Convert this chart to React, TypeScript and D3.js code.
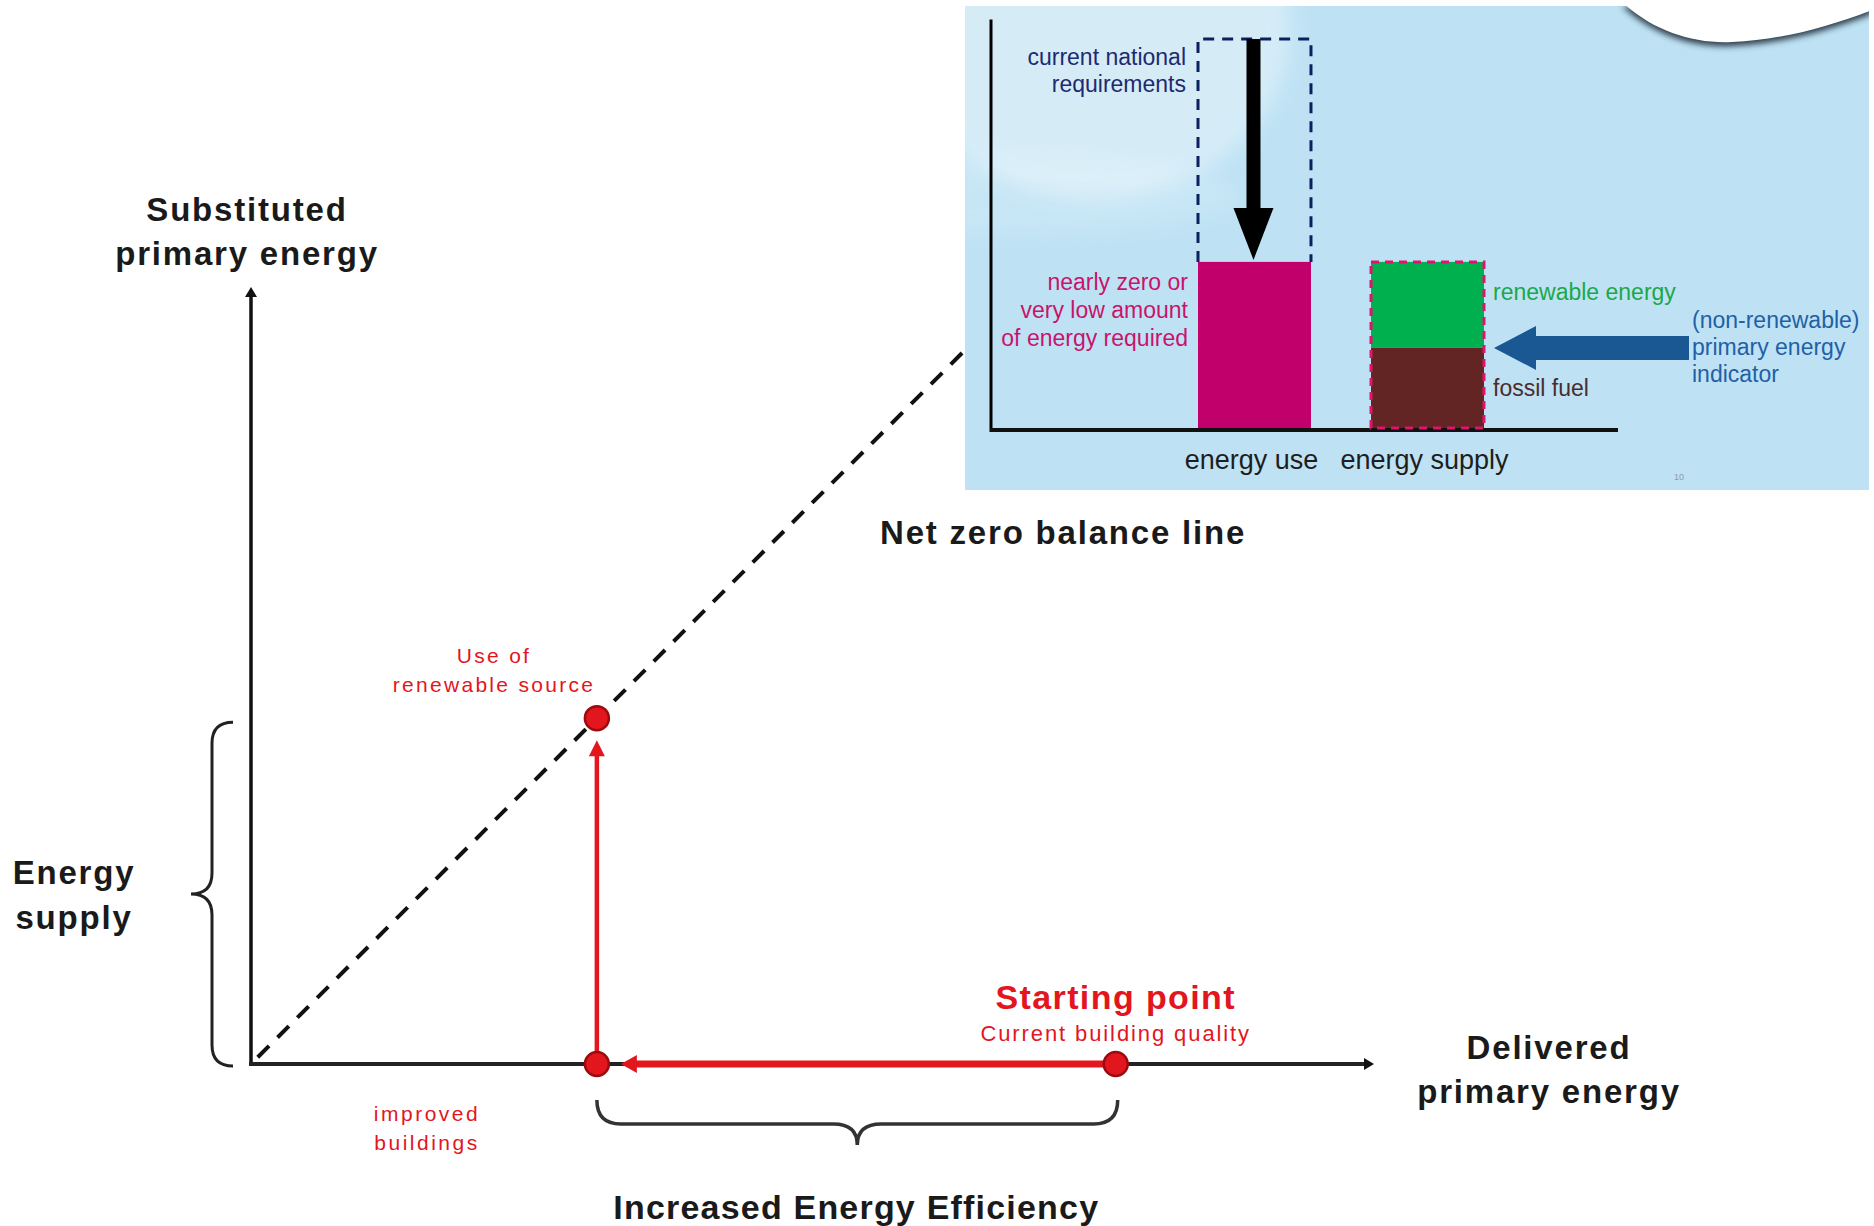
import React from "react";
import * as d3 from "d3";

// ---- Main diagram: delivered vs substituted primary energy ----
const deliveredAxisMax = 100;
const substitutedAxisMax = 69.2;
const netZeroLineEnd = 64;

// Path of a building from its current quality to net zero
const startingPoint = { delivered: 77, substituted: 0 };
const improvedBuilding = { delivered: 30.8, substituted: 0 };
const renewableSupply = { delivered: 30.8, substituted: 30.8 };

// ---- Inset bar chart: energy use vs energy supply ----
const insetCategories = ["energy use", "energy supply"];
const currentRequirement = 100;
const energyUseValue = 43;
const fossilFuelValue = 21;
const renewableValue = 22;
const insetAxisMax = 105;

const currentLabel = ["current national", "requirements"];
const nzebLabel = ["nearly zero or", "very low amount", "of energy required"];
const indicatorLabel = ["(non-renewable)", "primary energy", "indicator"];

const FONT = "'Liberation Sans', Arial, Helvetica, sans-serif";
const RED = "#e3151d";

function vBrace(x: number, y1: number, y2: number, w: number, c: number) {
  const m = (y1 + y2) / 2;
  return `M${x + w},${y1} Q${x},${y1} ${x},${y1 + w} L${x},${m - w} Q${x},${m} ${x - c},${m} Q${x},${m} ${x},${m + w} L${x},${y2 - w} Q${x},${y2} ${x + w},${y2}`;
}

function hBrace(x1: number, x2: number, y: number, w: number, c: number) {
  const m = (x1 + x2) / 2;
  return `M${x1},${y - w} Q${x1},${y} ${x1 + w},${y} L${m - w},${y} Q${m},${y} ${m},${y + c} Q${m},${y} ${m + w},${y} L${x2 - w},${y} Q${x2},${y} ${x2},${y - w}`;
}

export default function App() {
  const x = d3.scaleLinear().domain([0, deliveredAxisMax]).range([251, 1374]);
  const y = d3.scaleLinear().domain([0, substitutedAxisMax]).range([1064, 287]);

  const x0 = x(0);
  const y0 = y(0);

  const netZero = d3.line<[number, number]>()
    .x((d) => x(d[0]))
    .y((d) => y(d[1]))([[0.6, 0.6], [netZeroLineEnd, netZeroLineEnd]]);

  const sx = x(startingPoint.delivered);
  const ix = x(improvedBuilding.delivered);
  const ry = y(renewableSupply.substituted);
  const rx = x(renewableSupply.delivered);

  // inset scales
  const ix2 = d3.scaleBand<string>().domain(insetCategories).range([1198, 1484]).paddingInner(0.347);
  const iy = d3.scaleLinear().domain([0, insetAxisMax]).range([430, 19.5]);
  const bw = ix2.bandwidth();
  const useX = ix2("energy use")!;
  const supX = ix2("energy supply")!;
  const inset = { x: 965, y: 6, w: 904, h: 484 };
  const insetAxisX = 991;
  const insetAxisRight = 1618;

  const useTop = iy(energyUseValue);
  const reqTop = iy(currentRequirement);
  const fossilTop = iy(fossilFuelValue);
  const supplyTop = iy(fossilFuelValue + renewableValue);
  const arrowCx = useX + bw / 2 - 1;

  const blueArrowY = fossilTop;
  const blueTip = supX + bw + 10;
  const blueTail = 1689;

  return (
    <svg width={1874} height={1226} style={{ position: "absolute", left: 0, top: 0, background: "#fff" }} fontFamily={FONT}>
      <defs>
        <clipPath id="insetClip">
          <rect x={inset.x} y={inset.y} width={inset.w} height={inset.h} />
        </clipPath>
        <filter id="soft" x="-20%" y="-50%" width="140%" height="200%">
          <feGaussianBlur stdDeviation="3" />
        </filter>
        <filter id="glow" x="-30%" y="-30%" width="160%" height="160%">
          <feGaussianBlur stdDeviation="10" />
        </filter>
      </defs>

      {/* net zero balance line */}
      <path d={netZero!} stroke="#111" strokeWidth={4} strokeDasharray="16 12" fill="none" />

      {/* axes */}
      <line x1={x0} y1={y0} x2={x0} y2={y(substitutedAxisMax) + 8} stroke="#111" strokeWidth={3.5} />
      <path d={`M${x0 - 6},${y(substitutedAxisMax) + 10} L${x0},${y(substitutedAxisMax)} L${x0 + 6},${y(substitutedAxisMax) + 10} Z`} fill="#111" />
      <line x1={x0 - 2} y1={y0} x2={x(deliveredAxisMax) - 8} y2={y0} stroke="#222" strokeWidth={4} />
      <path d={`M${x(deliveredAxisMax) - 10},${y0 - 6} L${x(deliveredAxisMax)},${y0} L${x(deliveredAxisMax) - 10},${y0 + 6} Z`} fill="#111" />

      {/* axis titles */}
      <g fontWeight="bold" fontSize={33} fill="#1a1a1a" textAnchor="middle" letterSpacing={1.8}>
        <text x={247} y={209} dy="0.35em">Substituted</text>
        <text x={247} y={253} dy="0.35em">primary energy</text>
        <text x={74} y={872} dy="0.35em">Energy</text>
        <text x={74} y={917} dy="0.35em">supply</text>
        <text x={1549} y={1047} dy="0.35em">Delivered</text>
        <text x={1549} y={1091} dy="0.35em">primary energy</text>
      </g>
      <text x={880} y={532} dy="0.35em" fontWeight="bold" fontSize={33} fill="#1a1a1a" letterSpacing={1.8}>Net zero balance line</text>
      <text x={(ix + sx) / 2} y={1207} dy="0.35em" fontWeight="bold" fontSize={34} fill="#1a1a1a" textAnchor="middle" letterSpacing={1.2}>Increased Energy Efficiency</text>

      {/* braces */}
      <path d={vBrace(212, y(renewableSupply.substituted) + 4, y0 + 2, 21, 21)} fill="none" stroke="#222" strokeWidth={3} />
      <path d={hBrace(ix, sx + 2, 1124, 24, 21)} fill="none" stroke="#333" strokeWidth={3.5} />

      {/* red path: efficiency then renewables */}
      <line x1={sx} y1={y0} x2={ix + 36} y2={y0} stroke={RED} strokeWidth={7} />
      <path d={`M${ix + 24},${y0} L${ix + 40},${y0 - 9} L${ix + 40},${y0 + 9} Z`} fill={RED} />
      <line x1={ix} y1={y0} x2={rx} y2={ry + 36} stroke={RED} strokeWidth={4.5} />
      <path d={`M${rx},${ry + 22} L${rx - 8},${ry + 38} L${rx + 8},${ry + 38} Z`} fill={RED} />

      {[startingPoint, improvedBuilding, renewableSupply].map((p, i) => (
        <circle key={i} cx={x(p.delivered)} cy={y(p.substituted)} r={12} fill={RED} stroke="#9a0b10" strokeWidth={2.5} />
      ))}

      {/* red annotations */}
      <g fill={RED} textAnchor="middle">
        <text x={sx} y={997} dy="0.35em" fontWeight="bold" fontSize={34} letterSpacing={1.4}>Starting point</text>
        <text x={sx} y={1033} dy="0.35em" fontSize={22} letterSpacing={1.9}>Current building quality</text>
        <text x={494} y={656} dy="0.35em" fontSize={21} letterSpacing={2.3}>Use of</text>
        <text x={494} y={685} dy="0.35em" fontSize={21} letterSpacing={2.3}>renewable source</text>
        <text x={427} y={1114} dy="0.35em" fontSize={21} letterSpacing={2.5}>improved</text>
        <text x={427} y={1143} dy="0.35em" fontSize={21} letterSpacing={2.5}>buildings</text>
      </g>

      {/* ---- inset slide ---- */}
      <rect x={inset.x} y={inset.y} width={inset.w} height={inset.h} fill="#bee2f4" />
      <g clipPath="url(#insetClip)">
        <ellipse cx={1095} cy={30} rx={195} ry={170} fill="#ffffff" opacity={0.36} filter="url(#glow)" />
        <ellipse cx={1000} cy={195} rx={240} ry={40} fill="#ffffff" opacity={0.14} filter="url(#glow)" />
        {/* white swoosh with shadow in the corner */}
        <path d="M1622,2 C1652,30 1692,44 1732,42 C1782,40 1830,26 1872,10 L1872,2 Z" fill="#2a3a48" filter="url(#soft)" transform="translate(0,4)" />
        <path d="M1622,2 C1652,30 1692,44 1732,42 C1782,40 1830,26 1872,10 L1872,2 Z" fill="#ffffff" />
      </g>

      {/* inset axes */}
      <line x1={insetAxisX} y1={iy(insetAxisMax)} x2={insetAxisX} y2={iy(0) + 2} stroke="#000" strokeWidth={3} />
      <line x1={insetAxisX - 1} y1={iy(0)} x2={insetAxisRight} y2={iy(0)} stroke="#111" strokeWidth={4} />

      {/* energy use bar and current requirement outline */}
      <rect x={useX} y={useTop} width={bw} height={iy(0) - useTop - 2} fill="#c2006b" />
      <path d={`M${useX},${useTop} L${useX},${reqTop} L${useX + bw},${reqTop} L${useX + bw},${useTop}`} fill="none" stroke="#0c1f5e" strokeWidth={3} strokeDasharray="11 8" />
      <rect x={arrowCx - 7} y={reqTop} width={14} height={useTop - reqTop - 50} fill="#000" />
      <path d={`M${arrowCx - 20},${useTop - 54} L${arrowCx + 20},${useTop - 54} L${arrowCx},${useTop - 2} Z`} fill="#000" />

      {/* energy supply bar */}
      <rect x={supX} y={fossilTop} width={bw} height={iy(0) - fossilTop - 2} fill="#632523" />
      <rect x={supX} y={supplyTop} width={bw} height={fossilTop - supplyTop} fill="#00b04f" />
      <rect x={supX} y={supplyTop} width={bw} height={iy(0) - supplyTop - 2} fill="none" stroke="#e0136e" strokeWidth={3} strokeDasharray="8 6" />

      {/* primary energy indicator arrow */}
      <path d={`M${blueTail},${blueArrowY - 12} L${blueTip + 42},${blueArrowY - 12} L${blueTip + 42},${blueArrowY - 22} L${blueTip},${blueArrowY} L${blueTip + 42},${blueArrowY + 22} L${blueTip + 42},${blueArrowY + 12} L${blueTail},${blueArrowY + 12} Z`} fill="#1a5894" />

      {/* inset labels */}
      <g fontSize={23} textAnchor="end" fill="#1d2a72">
        {currentLabel.map((t, i) => (
          <text key={t} x={1186} y={57 + i * 27} dy="0.35em">{t}</text>
        ))}
      </g>
      <g fontSize={23} textAnchor="end" fill="#c8146c">
        {nzebLabel.map((t, i) => (
          <text key={t} x={1188} y={282 + i * 28} dy="0.35em">{t}</text>
        ))}
      </g>
      <text x={1493} y={292} dy="0.35em" fontSize={23} fill="#1aa84a">renewable energy</text>
      <text x={1493} y={388} dy="0.35em" fontSize={23} fill="#4a2c2c">fossil fuel</text>
      <g fontSize={23} fill="#2260a6">
        {indicatorLabel.map((t, i) => (
          <text key={t} x={1692} y={320 + i * 27} dy="0.35em">{t}</text>
        ))}
      </g>
      <g fontSize={27} fill="#1e1e1e" textAnchor="middle">
        {insetCategories.map((c) => (
          <text key={c} x={ix2(c)! + bw / 2 - 3} y={460} dy="0.35em">{c}</text>
        ))}
      </g>
      <text x={1679} y={477} dy="0.35em" fontSize={9} fill="#8a9aa8" textAnchor="middle">10</text>
    </svg>
  );
}
